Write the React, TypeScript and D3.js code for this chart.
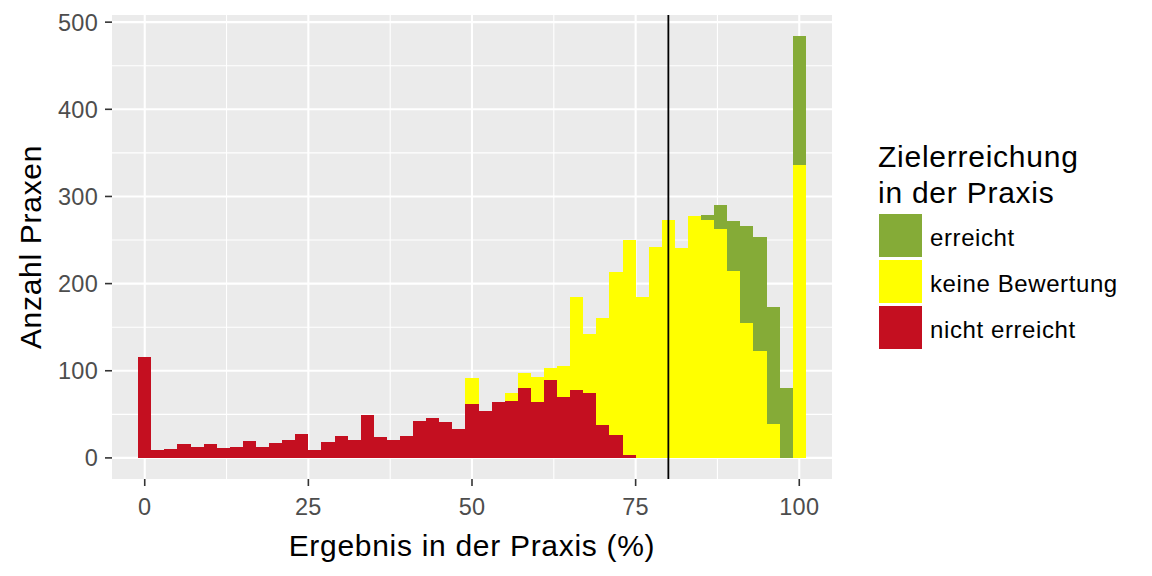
import React from 'react';
import * as d3 from 'd3';

const BIN_CENTERS = [0, 2, 4, 6, 8, 10, 12, 14, 16, 18, 20, 22, 24, 26, 28, 30, 32, 34, 36, 38, 40, 42, 44, 46, 48, 50, 52, 54, 56, 58, 60, 62, 64, 66, 68, 70, 72, 74, 76, 78, 80, 82, 84, 86, 88, 90, 92, 94, 96, 98, 100];
const NICHT_ERREICHT = [116, 9, 10, 16, 13, 16, 11, 13, 19, 13, 17, 21, 27, 9, 18, 25, 20, 49, 24, 21, 25, 42, 46, 41, 33, 62, 54, 64, 65, 80, 64, 89, 70, 78, 74, 38, 26, 3, 0, 0, 0, 0, 0, 0, 0, 0, 0, 0, 0, 0, 0];
const KEINE_BEWERTUNG = [0, 0, 0, 0, 0, 0, 0, 0, 0, 0, 0, 0, 0, 0, 0, 0, 0, 0, 0, 0, 0, 0, 0, 0, 0, 30, 0, 0, 9, 17, 29, 14, 36, 107, 68, 123, 187, 247, 185, 242, 273, 241, 278, 273, 263, 215, 155, 123, 39, 0, 336];
const ERREICHT = [0, 0, 0, 0, 0, 0, 0, 0, 0, 0, 0, 0, 0, 0, 0, 0, 0, 0, 0, 0, 0, 0, 0, 0, 0, 0, 0, 0, 0, 0, 0, 0, 0, 0, 0, 0, 0, 0, 0, 0, 0, 0, 0, 6, 27, 57, 111, 131, 134, 80, 148];

const SERIES_NAMES = ['erreicht', 'keine Bewertung', 'nicht erreicht'];
const SERIES_COLORS = ['#85AB37', '#FFFF00', '#C40F20'];
const X_TICKS = [0, 25, 50, 75, 100];
const X_MINOR = [12.5, 37.5, 62.5, 87.5];
const Y_TICKS = [0, 100, 200, 300, 400, 500];
const Y_MINOR = [50, 150, 250, 350, 450];
const BIN_WIDTH = 2;
const THRESHOLD = 80;
const X_TITLE = 'Ergebnis in der Praxis (%)';
const Y_TITLE = 'Anzahl Praxen';
const LEGEND_TITLE = ['Zielerreichung', 'in der Praxis'];

const FONT = '"Liberation Sans", Arial, sans-serif';

export default function App() {
  const W = 1152, H = 576;
  const pL = 112, pR = 832, pT = 15, pB = 479;

  const rows = BIN_CENTERS.map((c, i) => ({
    x: c,
    'nicht erreicht': NICHT_ERREICHT[i],
    'keine Bewertung': KEINE_BEWERTUNG[i],
    'erreicht': ERREICHT[i],
  }));
  const stackKeys = ['nicht erreicht', 'keine Bewertung', 'erreicht'];
  const stacked = d3.stack<any>().keys(stackKeys)(rows);
  const colorOf = d3.scaleOrdinal<string, string>().domain(SERIES_NAMES).range(SERIES_COLORS);

  const xMin = 0, xMax = 100;
  const xPad = (xMax - xMin) * 0.05;
  const x = d3.scaleLinear().domain([xMin - xPad, xMax + xPad]).range([pL, pR]);
  const yMaxData = d3.max(rows, (r: any) => r['nicht erreicht'] + r['keine Bewertung'] + r['erreicht']) as number;
  const yPad = yMaxData * 0.05;
  const y = d3.scaleLinear().domain([-yPad, yMaxData + yPad]).range([pB, pT]);

  const tickColor = '#333333';
  const labelColor = '#4D4D4D';

  return (
    <svg width={W} height={H} style={{ position: 'fixed', left: 0, top: 0, background: '#fff' }} fontFamily={FONT}>
      <rect x={0} y={0} width={W} height={H} fill="#fff" />
      <rect x={pL} y={pT} width={pR - pL} height={pB - pT} fill="#EBEBEB" />
      {Y_MINOR.map(v => (
        <line key={'ym' + v} x1={pL} x2={pR} y1={y(v)} y2={y(v)} stroke="#fff" strokeWidth={1.1} />
      ))}
      {X_MINOR.map(v => (
        <line key={'xm' + v} y1={pT} y2={pB} x1={x(v)} x2={x(v)} stroke="#fff" strokeWidth={1.1} />
      ))}
      {Y_TICKS.map(v => (
        <line key={'yM' + v} x1={pL} x2={pR} y1={y(v)} y2={y(v)} stroke="#fff" strokeWidth={2.1} />
      ))}
      {X_TICKS.map(v => (
        <line key={'xM' + v} y1={pT} y2={pB} x1={x(v)} x2={x(v)} stroke="#fff" strokeWidth={2.1} />
      ))}
      {stacked.map(layer => (
        <g key={layer.key} fill={colorOf(layer.key as string)}>
          {layer.map((d: any, i: number) => {
            if (d[1] - d[0] <= 0) return null;
            const c = d.data.x;
            return (
              <rect key={i} x={x(c - BIN_WIDTH / 2)} width={x(c + BIN_WIDTH / 2) - x(c - BIN_WIDTH / 2)}
                y={y(d[1])} height={y(d[0]) - y(d[1])} shapeRendering="crispEdges" />
            );
          })}
        </g>
      ))}
      <line x1={x(THRESHOLD)} x2={x(THRESHOLD)} y1={pT} y2={pB} stroke="#000" strokeWidth={1.8} />
      {/* y axis */}
      {Y_TICKS.map(v => (
        <g key={'yt' + v}>
          <line x1={pL - 7} x2={pL} y1={y(v)} y2={y(v)} stroke={tickColor} strokeWidth={1.6} />
          <text x={pL - 14} y={y(v)} dy="0.36em" textAnchor="end" fontSize={23.5} fill={labelColor} letterSpacing={0.3}>{v}</text>
        </g>
      ))}
      {X_TICKS.map(v => (
        <g key={'xt' + v}>
          <line x1={x(v)} x2={x(v)} y1={pB} y2={pB + 7} stroke={tickColor} strokeWidth={1.6} />
          <text x={x(v)} y={515} textAnchor="middle" fontSize={23.5} fill={labelColor} letterSpacing={0.3}>{v}</text>
        </g>
      ))}
      <text x={(pL + pR) / 2} y={556} textAnchor="middle" fontSize={30} fill="#000" letterSpacing={0.7}>{X_TITLE}</text>
      <text transform={`translate(41, ${(pT + pB) / 2}) rotate(-90)`} textAnchor="middle" fontSize={30} fill="#000" letterSpacing={0.7}>{Y_TITLE}</text>
      {/* legend */}
      <text x={878} y={167} fontSize={30} fill="#000" letterSpacing={0.75}>{LEGEND_TITLE[0]}</text>
      <text x={878} y={202.5} fontSize={30} fill="#000" letterSpacing={0.75}>{LEGEND_TITLE[1]}</text>
      {SERIES_NAMES.map((name, i) => {
        const top = 214 + i * 46;
        return (
          <g key={name}>
            <rect x={879} y={top} width={43} height={43} fill={colorOf(name)} />
            <text x={930} y={top + 32} fontSize={24} fill="#000" letterSpacing={0.6}>{name}</text>
          </g>
        );
      })}
    </svg>
  );
}
